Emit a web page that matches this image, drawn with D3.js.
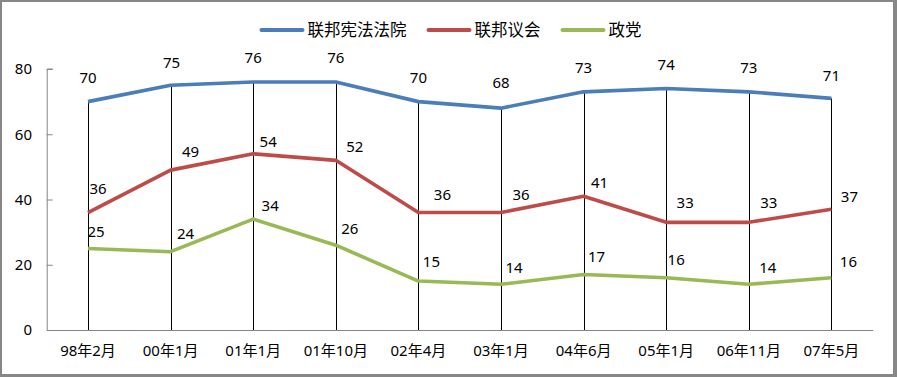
<!DOCTYPE html>
<html lang="zh">
<head>
<meta charset="UTF-8">
<title>chart</title>
<script src="https://cdn.jsdelivr.net/npm/d3@7"></script>
<style>
    body { margin: 0; background: #fff; }
    text { font-family: "Noto Sans", "Noto Sans CJK SC", sans-serif; fill: #000; }
</style>
</head>
<body>
<script>

    // data
    var categories = ["98年2月", "00年1月", "01年1月", "01年10月", "02年4月",
                      "03年1月", "04年6月", "05年1月", "06年11月", "07年5月"];
    var seriesNames = ["联邦宪法法院", "联邦议会", "政党"];
    var court   = [70, 75, 76, 76, 70, 68, 73, 74, 73, 71];
    var bundestag = [36, 49, 54, 52, 36, 36, 41, 33, 33, 37];
    var parties = [25, 24, 34, 26, 15, 14, 17, 16, 14, 16];
    var yTicks = [0, 20, 40, 60, 80];

    // label nudges (dx, dy) as placed in the original, in pixels
    var courtNudge = [[0,-24],[1,-23],[0,-24],[0,-24],[0,-24],[0,-25],[0,-24],[0,-24],[0,-24],[0,-23]];
    var bundNudge  = [[10,-24],[20,-18],[15,-12],[19,-14],[24,-18],[20,-18],[16,-13],[19,-20],[20,-20],[18,-13]];
    var partyNudge = [[8,-17],[15,-18],[17,-13],[14,-16],[13,-19],[13,-17],[13,-18],[10,-18],[19,-17],[17,-16]];

    var colors = ["#4a7ebb", "#be4b48", "#98b954"];

    var width = 897, height = 377;
    var margin = {left: 46.7, right: 24.3, top: 69, bottom: 47};

    var svg = d3.select("body").append("svg")
        .attr("width", width)
        .attr("height", height);

    // frame
    svg.append("rect")
        .attr("width", width).attr("height", height)
        .attr("fill", "#878787");
    svg.append("rect")
        .attr("x", 2).attr("y", 2)
        .attr("width", 891).attr("height", 372)
        .attr("fill", "#fff");

    var x = d3.scaleBand()
        .domain(categories)
        .range([margin.left, width - margin.right]);
    var y = d3.scaleLinear()
        .domain([0, 80])
        .range([height - margin.bottom, margin.top]);

    var cx = function (i) { return x(categories[i]) + x.bandwidth() / 2; };

    // y axis (ticks point inwards)
    var yAxis = svg.append("g")
        .attr("transform", "translate(" + margin.left + ",0)")
        .call(d3.axisRight(y).tickValues(yTicks).tickSize(6).tickFormat(""));
    yAxis.select(".domain").attr("stroke", "#868686").attr("d",
        "M0.5," + y(0) + "V" + y(80) + "H6");
    yAxis.selectAll(".tick line").attr("stroke", "#868686");

    svg.append("g").selectAll("text")
        .data(yTicks)
        .join("text")
        .attr("x", 32)
        .attr("y", function (d) { return y(d); })
        .attr("dy", "0.35em")
        .attr("text-anchor", "end")
        .attr("font-size", "15px")
        .text(function (d) { return d; });

    // x axis
    var xAxis = svg.append("g")
        .attr("transform", "translate(0," + y(0) + ")")
        .call(d3.axisBottom(x).tickSize(0).tickPadding(15));
    xAxis.select(".domain").attr("stroke", "#868686");
    xAxis.selectAll(".tick text")
        .attr("font-size", "15px")
        .attr("font-family", "'Noto Sans', 'Noto Sans CJK SC', sans-serif")
        .attr("fill", "#000");

    var allSeries = [court, bundestag, parties];
    var nudges = [courtNudge, bundNudge, partyNudge];

    // drop lines from highest point to axis
    svg.append("g").selectAll("line")
        .data(categories)
        .join("line")
        .attr("x1", function (d, i) { return Math.round(cx(i)) + 0.5; })
        .attr("x2", function (d, i) { return Math.round(cx(i)) + 0.5; })
        .attr("y1", function (d, i) { return y(d3.max(allSeries, function (s) { return s[i]; })); })
        .attr("y2", y(0))
        .attr("stroke", "#000")
        .attr("stroke-width", 1);

    var line = d3.line()
        .x(function (d, i) { return cx(i); })
        .y(function (d) { return y(d); });

    allSeries.forEach(function (s, k) {
        svg.append("path")
            .datum(s)
            .attr("fill", "none")
            .attr("stroke", colors[k])
            .attr("stroke-width", 3.6)
            .attr("stroke-linejoin", "round")
            .attr("d", line);
    });

    allSeries.forEach(function (s, k) {
        svg.append("g").selectAll("text")
            .data(s)
            .join("text")
            .attr("x", function (d, i) { return cx(i) + nudges[k][i][0]; })
            .attr("y", function (d, i) { return y(d) + nudges[k][i][1]; })
            .attr("dy", "0.35em")
            .attr("text-anchor", "middle")
            .attr("font-size", "15px")
            .text(function (d) { return d; });
    });

    // legend
    var legend = svg.append("g");
    var lx = 0;
    seriesNames.forEach(function (name, k) {
        var g = legend.append("g").attr("transform", "translate(" + lx + ",0)");
        g.append("line")
            .attr("x1", 0).attr("x2", 41)
            .attr("y1", 30).attr("y2", 30)
            .attr("stroke", colors[k])
            .attr("stroke-width", 4)
            .attr("stroke-linecap", "round");
        var t = g.append("text")
            .attr("x", 46)
            .attr("y", 30)
            .attr("dy", "0.36em")
            .attr("font-size", "16.5px")
            .attr("font-family", "'Noto Sans CJK SC', sans-serif")
            .text(name);
        lx += 46 + t.node().getComputedTextLength() + 22;
    });
    var legendWidth = lx - 22;
    legend.attr("transform", "translate(" + (451.5 - legendWidth / 2) + ",0)");

</script>
</body>
</html>
